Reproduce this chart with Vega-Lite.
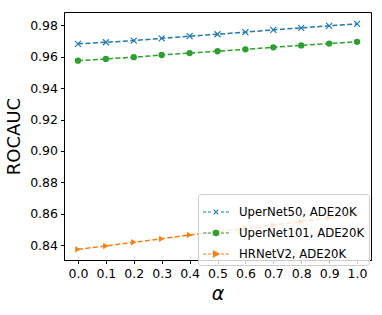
{
  "$schema": "https://vega.github.io/schema/vega-lite/v6.json",
  "width": 307,
  "height": 248,
  "autosize": {"type": "none"},
  "padding": {"left": 64, "top": 12, "right": 11, "bottom": 55},
  "config": {
    "font": "DejaVu Sans",
    "view": {"stroke": "black", "strokeWidth": 1},
    "axis": {
      "grid": false,
      "domainColor": "black",
      "tickColor": "black",
      "tickSize": 3.5,
      "labelColor": "black",
      "labelFontSize": 12.5,
      "labelPadding": 3,
      "titleColor": "black",
      "titleFontWeight": "normal"
    },
    "legend": {
      "fillColor": "rgba(255,255,255,0.8)",
      "strokeColor": "#cccccc",
      "cornerRadius": 3,
      "padding": 4,
      "labelFontSize": 11.7,
      "labelColor": "black",
      "labelOffset": 9,
      "rowPadding": 0,
      "symbolStrokeWidth": 1.2,
      "symbolSize": 676,
      "symbolOffset": 0
    }
  },
  "data": {
    "values": [
      {"alpha": 0.0, "model": "UperNet50, ADE20K", "rocauc": 0.9682},
      {"alpha": 0.1, "model": "UperNet50, ADE20K", "rocauc": 0.9692},
      {"alpha": 0.2, "model": "UperNet50, ADE20K", "rocauc": 0.9703},
      {"alpha": 0.3, "model": "UperNet50, ADE20K", "rocauc": 0.9717},
      {"alpha": 0.4, "model": "UperNet50, ADE20K", "rocauc": 0.9731},
      {"alpha": 0.5, "model": "UperNet50, ADE20K", "rocauc": 0.9743},
      {"alpha": 0.6, "model": "UperNet50, ADE20K", "rocauc": 0.9757},
      {"alpha": 0.7, "model": "UperNet50, ADE20K", "rocauc": 0.9771},
      {"alpha": 0.8, "model": "UperNet50, ADE20K", "rocauc": 0.9784},
      {"alpha": 0.9, "model": "UperNet50, ADE20K", "rocauc": 0.9797},
      {"alpha": 1.0, "model": "UperNet50, ADE20K", "rocauc": 0.9809},
      {"alpha": 0.0, "model": "UperNet101, ADE20K", "rocauc": 0.9575},
      {"alpha": 0.1, "model": "UperNet101, ADE20K", "rocauc": 0.9586},
      {"alpha": 0.2, "model": "UperNet101, ADE20K", "rocauc": 0.9597},
      {"alpha": 0.3, "model": "UperNet101, ADE20K", "rocauc": 0.9611},
      {"alpha": 0.4, "model": "UperNet101, ADE20K", "rocauc": 0.9623},
      {"alpha": 0.5, "model": "UperNet101, ADE20K", "rocauc": 0.9635},
      {"alpha": 0.6, "model": "UperNet101, ADE20K", "rocauc": 0.9647},
      {"alpha": 0.7, "model": "UperNet101, ADE20K", "rocauc": 0.9660},
      {"alpha": 0.8, "model": "UperNet101, ADE20K", "rocauc": 0.9672},
      {"alpha": 0.9, "model": "UperNet101, ADE20K", "rocauc": 0.9684},
      {"alpha": 1.0, "model": "UperNet101, ADE20K", "rocauc": 0.9695},
      {"alpha": 0.0, "model": "HRNetV2, ADE20K", "rocauc": 0.8373},
      {"alpha": 0.1, "model": "HRNetV2, ADE20K", "rocauc": 0.8394},
      {"alpha": 0.2, "model": "HRNetV2, ADE20K", "rocauc": 0.8418},
      {"alpha": 0.3, "model": "HRNetV2, ADE20K", "rocauc": 0.8440},
      {"alpha": 0.4, "model": "HRNetV2, ADE20K", "rocauc": 0.8465},
      {"alpha": 0.5, "model": "HRNetV2, ADE20K", "rocauc": 0.8484},
      {"alpha": 0.6, "model": "HRNetV2, ADE20K", "rocauc": 0.8506},
      {"alpha": 0.7, "model": "HRNetV2, ADE20K", "rocauc": 0.8528},
      {"alpha": 0.8, "model": "HRNetV2, ADE20K", "rocauc": 0.8550},
      {"alpha": 0.9, "model": "HRNetV2, ADE20K", "rocauc": 0.8573},
      {"alpha": 1.0, "model": "HRNetV2, ADE20K", "rocauc": 0.8595}
    ]
  },
  "encoding": {
    "x": {
      "field": "alpha",
      "type": "quantitative",
      "scale": {"domain": [-0.05, 1.05], "nice": false, "zero": false},
      "axis": {
        "values": [0, 0.1, 0.2, 0.3, 0.4, 0.5, 0.6, 0.7, 0.8, 0.9, 1.0],
        "format": ".1f",
        "title": "α",
        "titleFontSize": 19,
        "titleFontStyle": "italic",
        "titlePadding": 4,
        "labelPadding": 4
      }
    },
    "y": {
      "field": "rocauc",
      "type": "quantitative",
      "scale": {"domain": [0.8305, 0.9885], "nice": false, "zero": false},
      "axis": {
        "values": [0.84, 0.86, 0.88, 0.90, 0.92, 0.94, 0.96, 0.98],
        "format": ".2f",
        "title": "ROCAUC",
        "titleFontSize": 18,
        "titlePadding": 6
      }
    }
  },
  "layer": [
    {
      "mark": {"type": "line", "strokeDash": [5, 2.5], "strokeWidth": 1.5},
      "encoding": {
        "color": {
          "field": "model",
          "type": "nominal",
          "scale": {"range": ["#ff7f0e", "#2ca02c", "#1f77b4"]},
          "legend": null
        }
      }
    },
    {
      "transform": [{"filter": "datum.model === 'UperNet50, ADE20K'"}],
      "mark": {"type": "point", "shape": "M-1,-1L1,1M-1,1L1,-1", "filled": false, "size": 36, "strokeWidth": 1.2, "opacity": 1},
      "encoding": {
        "color": {"field": "model", "type": "nominal", "legend": null}
      }
    },
    {
      "transform": [{"filter": "datum.model === 'UperNet101, ADE20K'"}],
      "mark": {"type": "circle", "size": 40, "opacity": 1},
      "encoding": {
        "color": {"field": "model", "type": "nominal", "legend": null}
      }
    },
    {
      "transform": [{"filter": "datum.model === 'HRNetV2, ADE20K'"}],
      "mark": {"type": "point", "shape": "triangle-right", "filled": true, "size": 40, "opacity": 1},
      "encoding": {
        "color": {"field": "model", "type": "nominal", "legend": null}
      }
    },
    {
      "transform": [{"filter": "false"}],
      "mark": {"type": "point", "filled": true, "size": 676, "strokeWidth": 1.2, "opacity": 1},
      "encoding": {
        "stroke": {
          "field": "model",
          "type": "nominal",
          "scale": {
            "domain": ["UperNet50, ADE20K", "UperNet101, ADE20K", "HRNetV2, ADE20K"],
            "range": ["#1f77b4", "#2ca02c", "#ff7f0e"]
          },
          "legend": {"title": null, "orient": "none", "legendX": 134, "legendY": 182}
        },
        "fill": {
          "field": "model",
          "type": "nominal",
          "scale": {
            "domain": ["UperNet50, ADE20K", "UperNet101, ADE20K", "HRNetV2, ADE20K"],
            "range": ["#1f77b4", "#2ca02c", "#ff7f0e"]
          },
          "legend": {"title": null, "orient": "none", "legendX": 134, "legendY": 182}
        },
        "shape": {
          "field": "model",
          "type": "nominal",
          "scale": {
            "domain": ["UperNet50, ADE20K", "UperNet101, ADE20K", "HRNetV2, ADE20K"],
            "range": [
              "M-1,0H-0.75M-0.62,0H-0.38M0.38,0H0.62M0.75,0H1M-0.18,-0.18L0.18,0.18M-0.18,0.18L0.18,-0.18",
              "M-1,0H-0.75M-0.62,0H-0.38M0.38,0H0.62M0.75,0H1M0.21,0A0.21,0.21,0,1,1,-0.21,0A0.21,0.21,0,1,1,0.21,0Z",
              "M-1,0H-0.75M-0.62,0H-0.38M0.38,0H0.62M0.75,0H1M-0.2,-0.22L0.24,0L-0.2,0.22Z"
            ]
          },
          "legend": {"title": null, "orient": "none", "legendX": 134, "legendY": 182}
        }
      }
    }
  ]
}
